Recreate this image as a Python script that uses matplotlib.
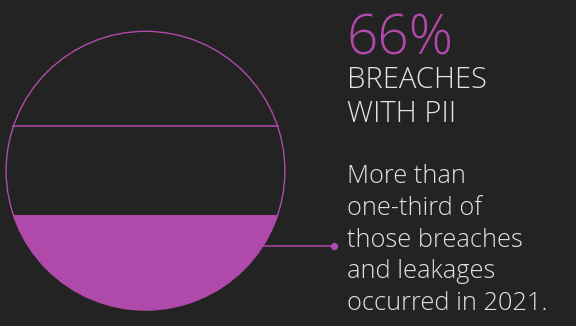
import numpy as np
import matplotlib
matplotlib.use("Agg")
import matplotlib.pyplot as plt
from matplotlib.patches import Circle, Rectangle

# Share values (percent of the circle's height)
pii_share = 66          # breaches with PII
recent_share = 34       # portion that occurred in 2021
headline = "66%"
title_lines = ["BREACHES", "WITH PII"]
body_lines = ["More than", "one-third of", "those breaches", "and leakages", "occurred in 2021."]

BG = "#232323"
ACCENT = "#b04aaa"
TEXT = "#e2e2e2"
FONT = ["Open Sans", "DejaVu Sans"]

fig = plt.figure(figsize=(5.76, 3.26), dpi=100, facecolor=BG)
ax = fig.add_axes([0, 0, 1, 1])
ax.set_facecolor(BG)
ax.set_xlim(0, 576)
ax.set_ylim(326, 0)
ax.set_aspect("equal")
ax.axis("off")

cx, cy, r = 145.5, 170.7, 139.4
bottom = cy + r

def chord_y(pct):
    return bottom - 2 * r * pct / 100.0

def half_width(y):
    return np.sqrt(max(r ** 2 - (y - cy) ** 2, 0))

# filled segment for the 2021 share
circle_clip = Circle((cx, cy), r, transform=ax.transData)
y_fill = chord_y(recent_share)
seg = Rectangle((cx - r, y_fill), 2 * r, bottom - y_fill, facecolor=ACCENT,
                edgecolor="none", zorder=2)
ax.add_patch(seg)
seg.set_clip_path(circle_clip)

# outline
ax.add_patch(Circle((cx, cy), r, facecolor="none", edgecolor=ACCENT, lw=1.0, zorder=3))

# PII level line
y_pii = chord_y(pii_share)
hw = half_width(y_pii)
ax.plot([cx - hw, cx + hw], [y_pii, y_pii], color=ACCENT, lw=1.1, zorder=3)

# leader from the segment to the note
y_lead = 246
x0 = cx + half_width(y_lead)
ax.plot([x0, 334], [y_lead, y_lead], color=ACCENT, lw=1.1, zorder=3)
ax.plot([334], [y_lead], "o", color=ACCENT, ms=4.2, zorder=4)

tx = 346
ax.text(tx, 54.5, headline, color=ACCENT, fontsize=39.5, family=FONT,
        fontweight="light", va="baseline", ha="left")
for i, line in enumerate(title_lines):
    ax.text(tx + 1, 87.5 + i * 34.3, line, color=TEXT, fontsize=21, family=FONT,
            fontweight="light", va="baseline", ha="left")
for i, line in enumerate(body_lines):
    ax.text(tx + 1, 183.3 + i * 31.7, line, color=TEXT, fontsize=18.3, family=FONT,
            fontweight="light", va="baseline", ha="left")

fig.savefig("out.png", dpi=100, facecolor=BG)
